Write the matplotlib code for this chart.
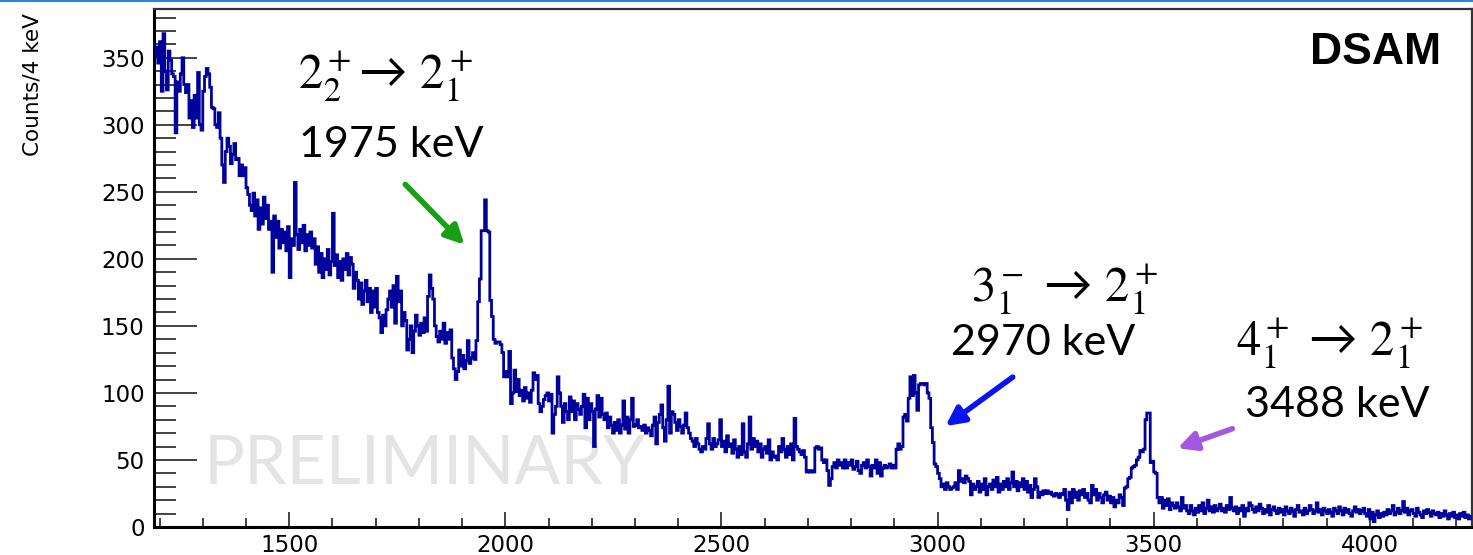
import matplotlib
matplotlib.use("Agg")
import matplotlib.pyplot as plt
import numpy as np

# gamma spectrum, 4 keV bins starting at 1188 keV
energy_start = 1188
bin_width = 4
counts = [
    352, 358, 346, 362, 325, 368, 340, 326, 355, 348, 338, 336, 294, 332, 325, 338, 350, 330, 324, 330, 305, 318, 298, 322, 305,
    339, 300, 296, 325, 336, 342, 338, 328, 313, 312, 300, 298, 309, 290, 270, 257, 280, 290, 284, 271, 278, 286, 274, 275, 262,
    270, 262, 268, 253, 248, 240, 236, 249, 232, 244, 222, 238, 226, 246, 230, 240, 222, 228, 190, 232, 216, 228, 208, 222, 212,
    220, 206, 224, 186, 215, 210, 257, 218, 207, 222, 212, 225, 206, 218, 210, 220, 208, 215, 196, 209, 190, 204, 186, 200, 192,
    207, 188, 198, 234, 195, 203, 186, 198, 184, 200, 192, 204, 188, 201, 196, 178, 190, 184, 170, 182, 166, 176, 184, 168, 178,
    160, 176, 164, 178, 160, 156, 145, 158, 150, 162, 170, 176, 164, 180, 152, 187, 168, 176, 150, 160, 154, 132, 140, 150, 130,
    146, 158, 150, 143, 152, 145, 156, 146, 172, 188, 178, 170, 150, 142, 138, 146, 140, 152, 137, 145, 140, 147, 126, 118, 110,
    116, 132, 120, 128, 118, 124, 139, 122, 126, 130, 125, 139, 168, 185, 221, 221, 244, 221, 220, 169, 157, 140, 137, 138, 138,
    136, 130, 112, 116, 112, 131, 92, 100, 117, 101, 110, 98, 102, 94, 104, 96, 100, 93, 102, 115, 110, 113, 92, 86, 90,
    95, 98, 100, 94, 99, 70, 84, 90, 112, 100, 90, 78, 92, 86, 80, 97, 86, 94, 80, 92, 88, 84, 90, 99, 74,
    96, 80, 92, 86, 60, 88, 98, 82, 96, 84, 80, 85, 74, 82, 76, 70, 78, 72, 80, 70, 76, 94, 73, 82, 70,
    80, 96, 75, 76, 80, 74, 75, 72, 76, 70, 74, 72, 68, 76, 82, 62, 78, 84, 91, 74, 64, 80, 105, 70, 86,
    84, 78, 72, 80, 75, 70, 76, 85, 74, 70, 66, 64, 60, 66, 62, 58, 56, 60, 58, 66, 77, 62, 58, 66, 60,
    62, 65, 80, 60, 64, 56, 68, 60, 62, 55, 65, 58, 52, 60, 54, 77, 56, 52, 62, 82, 58, 66, 60, 64, 56,
    62, 52, 58, 60, 55, 65, 50, 56, 52, 53, 50, 60, 56, 66, 58, 52, 60, 54, 62, 50, 81, 60, 58, 56, 54,
    57, 52, 41, 42, 41, 42, 41, 59, 60, 58, 59, 50, 48, 50, 42, 31, 36, 45, 48, 44, 50, 46, 48, 44, 50,
    44, 48, 46, 50, 43, 45, 49, 42, 40, 46, 48, 44, 50, 45, 38, 46, 44, 50, 40, 48, 38, 44, 46, 44, 45,
    47, 44, 46, 44, 58, 62, 58, 60, 82, 84, 79, 96, 112, 98, 113, 100, 87, 106, 107, 107, 106, 107, 100, 96, 74,
    63, 47, 45, 40, 36, 30, 32, 28, 33, 30, 28, 29, 30, 33, 28, 42, 34, 36, 33, 38, 36, 34, 24, 32, 28,
    30, 34, 26, 32, 28, 36, 24, 30, 32, 28, 35, 30, 37, 26, 32, 28, 34, 30, 36, 28, 33, 41, 30, 34, 27,
    33, 30, 36, 28, 34, 26, 31, 22, 28, 36, 30, 22, 26, 24, 27, 25, 27, 25, 26, 24, 23, 25, 24, 22, 25,
    24, 28, 20, 13, 26, 18, 28, 22, 26, 20, 27, 24, 28, 22, 25, 20, 18, 31, 24, 28, 20, 25, 22, 18, 24,
    26, 20, 23, 18, 22, 15, 20, 18, 24, 22, 16, 29, 30, 36, 37, 44, 45, 46, 50, 52, 57, 56, 58, 80, 85,
    85, 48, 49, 41, 40, 22, 18, 22, 14, 20, 16, 21, 13, 18, 16, 14, 18, 15, 12, 22, 14, 16, 12, 10, 16,
    12, 9, 14, 11, 16, 12, 18, 10, 14, 20, 12, 15, 11, 16, 12, 14, 17, 12, 14, 11, 16, 13, 22, 14, 12,
    15, 10, 14, 12, 16, 8, 14, 12, 18, 16, 13, 11, 15, 12, 17, 14, 10, 13, 11, 16, 9, 13, 15, 12, 10,
    14, 11, 13, 9, 15, 12, 10, 14, 12, 8, 13, 16, 11, 12, 9, 14, 10, 12, 16, 13, 10, 12, 18, 11, 13,
    9, 14, 12, 10, 13, 11, 8, 14, 12, 10, 15, 12, 9, 14, 11, 13, 10, 8, 12, 15, 11, 13, 10, 12, 14,
    10, 8, 13, 6, 11, 4, 9, 12, 7, 10, 8, 11, 9, 13, 10, 12, 16, 9, 11, 14, 10, 12, 19, 11, 14,
    9, 12, 13, 10, 8, 14, 11, 9, 7, 12, 10, 13, 11, 8, 12, 10, 9, 11, 7, 10, 8, 12, 9, 6, 10,
    8, 11, 7, 9, 6, 10, 8, 11, 7, 9, 6, 8,
]
edges = energy_start + bin_width * np.arange(len(counts) + 1)

x_ticks = [1500, 2000, 2500, 3000, 3500, 4000]
y_ticks = [0, 50, 100, 150, 200, 250, 300, 350]

plt.rcParams['mathtext.fontset'] = 'stix'

fig = plt.figure(figsize=(14.73, 5.55), dpi=100)
ax = fig.add_axes([0.1048, 0.0505, 0.8944, 0.9324])

ax.stairs(counts, edges, baseline=None, color='#00009c', linewidth=2.0, zorder=3)

ax.set_xlim(energy_start, edges[-1])
ax.set_ylim(0, 386)

ax.set_xticks(x_ticks)
ax.set_yticks(y_ticks)
ax.set_xticks(np.arange(1200, 4201, 100), minor=True)
ax.set_yticks(np.arange(0, 381, 10), minor=True)
ax.tick_params(axis='both', which='both', direction='in', colors='#222222', width=1.2,
               labelsize=16.5, labelcolor='black')
ax.tick_params(axis='y', which='major', length=31, pad=7)
ax.tick_params(axis='y', which='minor', length=16)
ax.tick_params(axis='x', which='major', length=11, pad=5)
ax.tick_params(axis='x', which='minor', length=6.5)
for side in ['left', 'bottom']:
    ax.spines[side].set_linewidth(2.2)
for side in ['top', 'right']:
    ax.spines[side].set_linewidth(1.6)
    ax.spines[side].set_color('#333333')

ax.set_ylabel('Counts/4 keV', family='DejaVu Sans', fontsize=15.5, loc='top')
ax.yaxis.set_label_coords(-0.085, 0.993)

ann_font = ['Lato', 'DejaVu Sans']
ax.text(1814, 46, 'PRELIMINARY', family=ann_font, fontsize=49,
        color='#e4e4e4', ha='center', va='center', zorder=1)
ax.text(4165, 354, 'DSAM', family='Liberation Sans', fontweight='bold', fontsize=32,
        ha='right', va='center')

# transition labels and arrows
ax.text(1722, 336, r'$2_2^+$→ $2_1^+$', family=ann_font, fontsize=35, ha='center', va='center')
ax.text(1736, 285, '1975 keV', family=ann_font, fontsize=31, ha='center', va='center')
ax.annotate('', xy=(1910, 209), xytext=(1764, 257),
            arrowprops=dict(arrowstyle='-|>', color='#16a016', lw=4, mutation_scale=28))

ax.text(3295, 177, r'$3_1^-$ → $2_1^+$', family=ann_font, fontsize=35, ha='center', va='center')
ax.text(3244, 137, '2970 keV', family=ann_font, fontsize=31, ha='center', va='center')
ax.annotate('', xy=(3013, 74), xytext=(3179, 113),
            arrowprops=dict(arrowstyle='-|>', color='#0a14f0', lw=4, mutation_scale=28))

ax.text(3908, 137, r'$4_1^+$ → $2_1^+$', family=ann_font, fontsize=35, ha='center', va='center')
ax.text(3924, 91, '3488 keV', family=ann_font, fontsize=31, ha='center', va='center')
ax.annotate('', xy=(3549, 58), xytext=(3688, 74),
            arrowprops=dict(arrowstyle='-|>', color='#a458e0', lw=4, mutation_scale=28))

# thin header rule along the top edge
fig.add_artist(plt.Line2D([0, 1], [0.998, 0.998], color='#2a86d6', lw=1.5))

fig.savefig('out.png', dpi=100)
